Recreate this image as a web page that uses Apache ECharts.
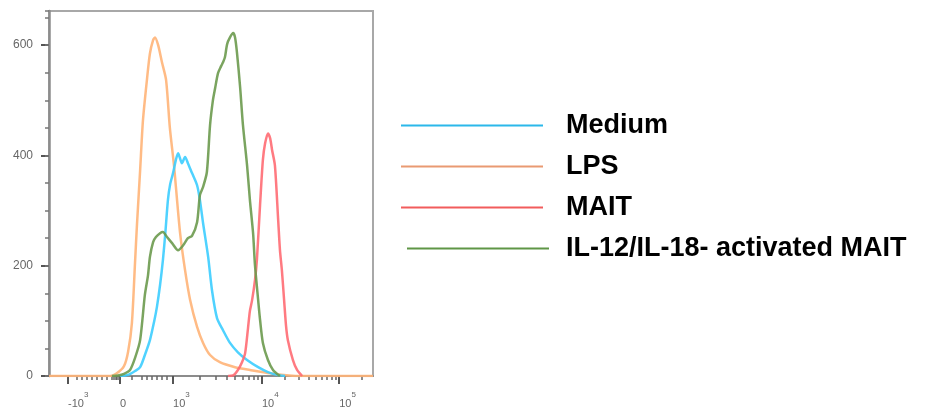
<!DOCTYPE html>
<html>
<head>
<meta charset="utf-8">
<script src="https://cdn.jsdelivr.net/npm/echarts@6/dist/echarts.min.js"></script>
<style>
  html, body { margin: 0; padding: 0; background: #fff; }
  #chart { width: 931px; height: 412px; }
</style>
</head>
<body>
<div id="chart"></div>
<script>
// Fluorescence axis is drawn on a biexponential display scale (channel 0–1024).
const majorTickChannels = [60, 224, 392, 673, 917];
const majorTickLabels = [['-10', '3'], ['0', ''], ['10', '3'], ['10', '4'], ['10', '5']];
const minorTickChannels = [
  88, 104, 120, 136, 152, 168, 183, 199, 205, 210, 215, 219,
  262, 294, 310, 326, 341, 357, 373,
  477, 526, 561, 588, 611, 630, 646, 660,
  746, 789, 820, 843, 863, 879, 893, 905,
  990
];
const countTicks = [0, 200, 400, 600];

// Histogram traces: [display channel, cell count]
const medium = [
  [224, 0], [250, 2], [272, 9], [288, 16], [303, 38], [319, 65], [332, 98], [341, 125],
  [351, 165], [360, 210], [368, 262], [376, 320], [383, 348], [392, 368], [401, 392],
  [408, 404], [414, 395], [420, 386], [430, 397], [439, 386], [452, 368], [468, 346],
  [477, 319], [487, 277], [503, 216], [515, 156], [531, 105], [550, 83], [572, 60],
  [597, 43], [626, 29], [661, 16], [692, 7], [721, 2], [746, 0]
];
const lps = [
  [0, 0], [193, 0], [212, 4], [237, 18], [250, 44], [262, 96], [272, 207], [278, 274],
  [288, 373], [297, 464], [310, 540], [319, 585], [329, 609], [335, 614], [345, 600],
  [357, 569], [370, 537], [382, 450], [395, 382], [414, 261], [430, 192], [446, 138],
  [468, 89], [487, 60], [509, 38], [540, 25], [588, 16], [635, 11], [699, 5], [793, 0],
  [1024, 0]
];
const mait = [
  [566, 0], [582, 1], [597, 11], [610, 25], [620, 42], [629, 87], [635, 118], [642, 138],
  [651, 174], [657, 210], [667, 310], [676, 392], [683, 422], [692, 440], [699, 431],
  [705, 410], [714, 382], [724, 286], [730, 228], [736, 192], [743, 138], [749, 92],
  [755, 65], [771, 29], [784, 11], [800, 0]
];
const activatedMait = [
  [199, 0], [218, 1], [237, 4], [256, 11], [272, 33], [288, 65], [303, 147], [313, 183],
  [319, 216], [329, 243], [338, 252], [351, 259], [360, 261], [373, 252], [389, 241],
  [408, 228], [424, 237], [439, 250], [452, 254], [468, 279], [477, 328], [487, 343],
  [499, 370], [509, 455], [518, 500], [525, 522], [534, 549], [544, 562], [550, 569],
  [556, 578], [563, 602], [572, 614], [582, 622], [588, 614], [594, 587], [604, 524],
  [613, 455], [626, 382], [635, 319], [645, 259], [651, 201], [661, 138], [667, 102],
  [676, 60], [692, 29], [708, 11], [730, 0]
];

const seriesNames = ['Medium', 'LPS', 'MAIT', 'IL-12/IL-18- activated MAIT'];

const chart = echarts.init(document.getElementById('chart'), null, { renderer: 'canvas' });

const labelFont = 'Liberation Sans';
const legendText = {
  fontFamily: labelFont, fontSize: 27, fontWeight: 'bold', color: '#000', lineHeight: 27
};

function tickLabel(value) {
  const i = majorTickChannels.findIndex(c => Math.abs(c - value) < 0.5);
  if (i < 0) return '';
  const [base, sup] = majorTickLabels[i];
  return sup ? '{b|' + base + '}{s|' + sup + '}' : '{b|' + base + '}';
}

function trace(name, data, color, z) {
  return {
    name: name,
    type: 'line',
    data: data,
    smooth: 0.25,
    showSymbol: false,
    z: z,
    lineStyle: { color: color, width: 2.5, opacity: 0.9 },
    itemStyle: { color: color }
  };
}

chart.setOption({
  animation: false,
  grid: {
    left: 49, right: 558, top: 11, bottom: 36,
    outerBoundsMode: 'none',
    show: true, borderColor: '#a8a8a8', borderWidth: 2, backgroundColor: 'transparent'
  },
  xAxis: [
    {
      type: 'value', min: 0, max: 1024, position: 'bottom',
      axisLine: { show: true, lineStyle: { color: '#8c8c8c', width: 2 } },
      axisTick: { show: true, customValues: majorTickChannels, length: 8, lineStyle: { color: '#555', width: 2 } },
      axisLabel: {
        show: true, customValues: majorTickChannels, formatter: tickLabel,
        align: 'left', margin: 15,
        rich: {
          b: { fontFamily: labelFont, fontSize: 11, color: '#666', lineHeight: 18, verticalAlign: 'bottom' },
          s: { fontFamily: labelFont, fontSize: 8, color: '#666', lineHeight: 8, verticalAlign: 'top' }
        }
      },
      splitLine: { show: false }
    },
    {
      type: 'value', min: 0, max: 1024, position: 'bottom',
      axisLine: { show: false },
      axisTick: { show: true, customValues: minorTickChannels, length: 4, lineStyle: { color: '#666', width: 1.5 } },
      axisLabel: { show: false },
      splitLine: { show: false }
    }
  ],
  yAxis: [
    {
      type: 'value', min: 0, max: 662, position: 'left',
      axisLine: { show: true, lineStyle: { color: '#8c8c8c', width: 2.5 } },
      axisTick: { show: true, customValues: countTicks, length: 8, lineStyle: { color: '#555', width: 2 } },
      axisLabel: {
        show: true, customValues: countTicks, margin: 16,
        fontFamily: labelFont, fontSize: 12, color: '#666'
      },
      splitLine: { show: false }
    },
    {
      type: 'value', min: 0, max: 662, interval: 50, position: 'left', offset: 0,
      axisLine: { show: false },
      axisTick: { show: true, length: 4, lineStyle: { color: '#777', width: 1.5 } },
      axisLabel: { show: false },
      splitLine: { show: false }
    }
  ],
  legend: [
    {
      orient: 'vertical', left: 401, top: 112, padding: 0,
      itemWidth: 142, itemHeight: 2, itemGap: 14, icon: 'rect', selectedMode: false,
      textStyle: Object.assign({ padding: [0, 0, 0, 18] }, legendText),
      data: [
        { name: seriesNames[0], itemStyle: { color: '#2bb8ea' } },
        { name: seriesNames[1], itemStyle: { color: '#e99a72' } },
        { name: seriesNames[2], itemStyle: { color: '#f25c5c' } }
      ]
    },
    {
      orient: 'vertical', left: 407, top: 235, padding: 0,
      itemWidth: 142, itemHeight: 2, icon: 'rect', selectedMode: false,
      textStyle: Object.assign({ padding: [0, 0, 0, 12] }, legendText),
      data: [
        { name: seriesNames[3], itemStyle: { color: '#5f9646' } }
      ]
    }
  ],
  series: [
    trace(seriesNames[1], lps, '#ffb478', 3),
    trace(seriesNames[0], medium, '#3ccdff', 4),
    trace(seriesNames[2], mait, '#ff6b73', 5),
    trace(seriesNames[3], activatedMait, '#6b9a4e', 6)
  ]
});
</script>
</body>
</html>
